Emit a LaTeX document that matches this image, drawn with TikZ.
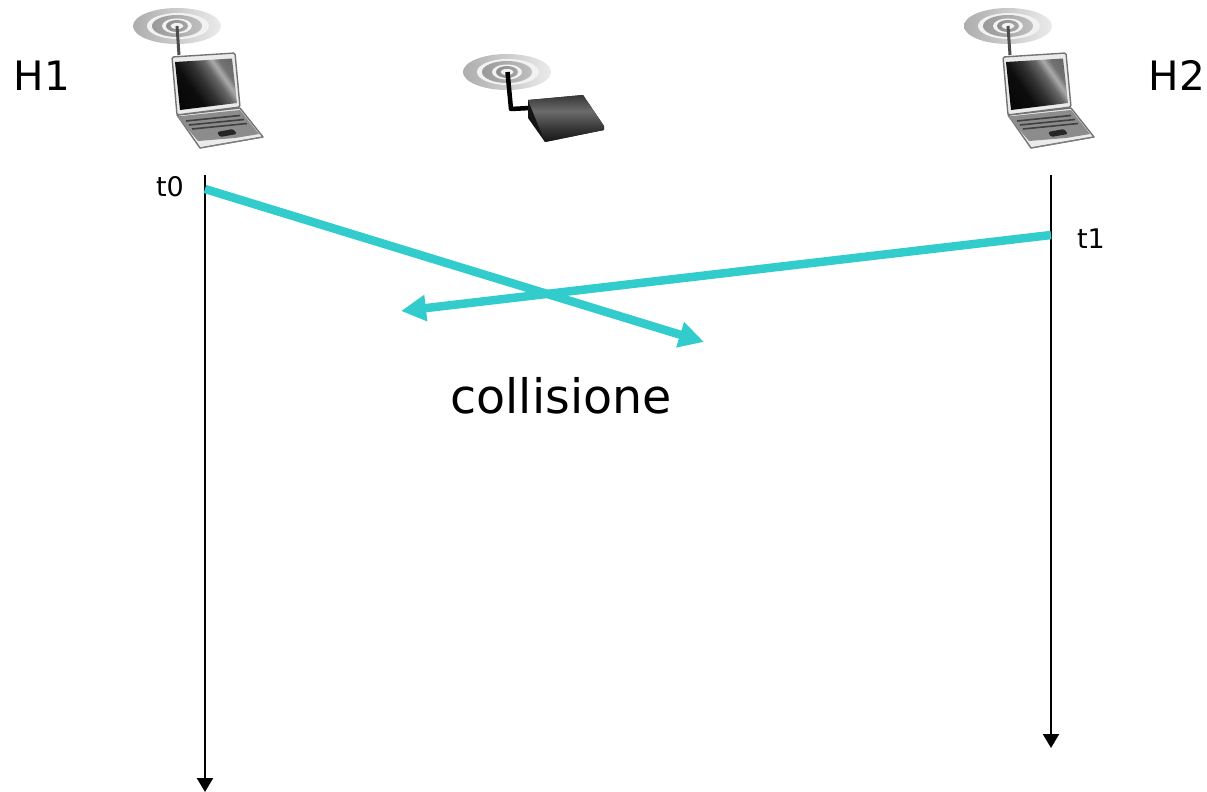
\documentclass[tikz,border=0pt]{standalone}
\usepackage{fontspec}
\setmainfont{DejaVu Sans}
\usetikzlibrary{arrows.meta,shadings}
\definecolor{teal1}{HTML}{33CCCC}
\pgfdeclarehorizontalshading{screenshade}{100bp}{
  color(0bp)=(black); color(38bp)=(black!95!white); color(50bp)=(black!80!white);
  color(60bp)=(black!60!white); color(66bp)=(black!33!white); color(71bp)=(black!55!white); color(100bp)=(black!70!white)}
\pgfdeclareverticalshading{routershade}{100bp}{
  color(0bp)=(black!92); color(25bp)=(black!92); color(40bp)=(black!78); color(58bp)=(black!58); color(72bp)=(black!75); color(85bp)=(black!88); color(100bp)=(black!88)}
\tikzset{
  x=1pt,y=-1pt,
  label big/.style={font=\fontsize{40.5}{40.5}\selectfont,anchor=base,inner sep=0pt,text=black},
  label small/.style={font=\fontsize{27}{27}\selectfont,anchor=base,inner sep=0pt,text=black},
  label coll/.style={font=\fontsize{47.5}{47.5}\selectfont,anchor=base,inner sep=0pt,text=black},
  timeline/.style={draw=black,line width=2.2pt,-{Triangle[length=14pt,width=16pt]}},
  frame arrow/.style={draw=teal1,line width=8.5pt,-{Triangle[length=25pt,width=25pt]}},
  signal/.pic={
    \shade[left color=black!32,right color=black!8] (0,0) ellipse [x radius=44,y radius=18];
    \fill[black!5] (1,0) ellipse [x radius=31,y radius=13];
    \shade[left color=black!40,right color=black!25] (0,0) ellipse [x radius=25,y radius=11];
    \fill[black!5] (0,0) ellipse [x radius=15,y radius=7.5];
    \shade[left color=black!45,right color=black!35] (0,0) ellipse [x radius=11,y radius=6];
    \fill[black!5] (0,0) ellipse [x radius=6.5,y radius=3];
  },
  laptop/.pic={
    \pic at (57,26) {signal};
    \draw[black!70,line width=3pt] (57,26) -- (59,55);
    \fill[black!8] (57,115) -- (120,108) -- (143,137) -- (80,148) -- cycle;
    \draw[black!55,line width=1.4pt,line join=round] (57,115) -- (120,108) -- (143,137) -- (80,148) -- cycle;
    \fill[black!45] (57,116.5) -- (120,110) -- (139,134) -- (115,138) -- (78,141) -- cycle;
    \fill[black!8,draw=black!55,line width=1.4pt,line join=round,rounded corners=1.5pt] (52,57) -- (115,53) -- (120,107) -- (57,115) -- cycle;
    \shade[shading=screenshade,shading angle=35] (55,62) -- (112,58.5) -- (117,103) -- (60,110) -- cycle;
    \draw[black!75,line width=1.6pt] (66,121) -- (120,115.5) (69,125) -- (124,119.5) (72,129) -- (127,123.5);
    \fill[black!85,rounded corners=1.5pt] (97,132) -- (113,129) -- (117,134) -- (100,137) -- cycle;
    \draw[black!50,line width=1pt] (80,148) -- (143,137);
  },
  router/.pic={
    \pic at (57,32) {signal};
    \draw[black,line width=4.5pt,line join=round] (57.5,32) -- (61,69) -- (80,68);
    \fill[black!92] (78,60) -- (133,55) -- (154,86) -- (154,90) -- (95,102) -- (78,78) -- cycle;
    \shade[shading=routershade] (78,60) -- (133,55) -- (154,86) -- (154,90) -- (95,102) -- cycle;
  },
}
\begin{document}
\begin{tikzpicture}
\useasboundingbox (0,0) rectangle (1207,792);
\pic at (120,0) {laptop};
\pic at (951,0) {laptop};
\pic at (450,40) {router};
\node[label big] (h1) at (42,90) {H1};
\node[label big] (h2) at (1177,90) {H2};
\node[label small] (t0) at (170,196) {t0};
\node[label small] (t1) at (1091,248) {t1};
\node[label coll] (coll) at (561,413) {collisione};
\coordinate (h1top) at (205,175);
\coordinate (h1end) at (205,792);
\coordinate (h2top) at (1051,175);
\coordinate (h2end) at (1051,748);
\coordinate (a1s) at (205,189);
\coordinate (a1e) at (704,342);
\coordinate (a2s) at (1051,235);
\coordinate (a2e) at (401,311);
\draw[timeline] (h1top) -- (h1end);
\draw[timeline] (h2top) -- (h2end);
\draw[frame arrow] (a1s) -- (a1e);
\draw[frame arrow] (a2s) -- (a2e);
\end{tikzpicture}
\end{document}
